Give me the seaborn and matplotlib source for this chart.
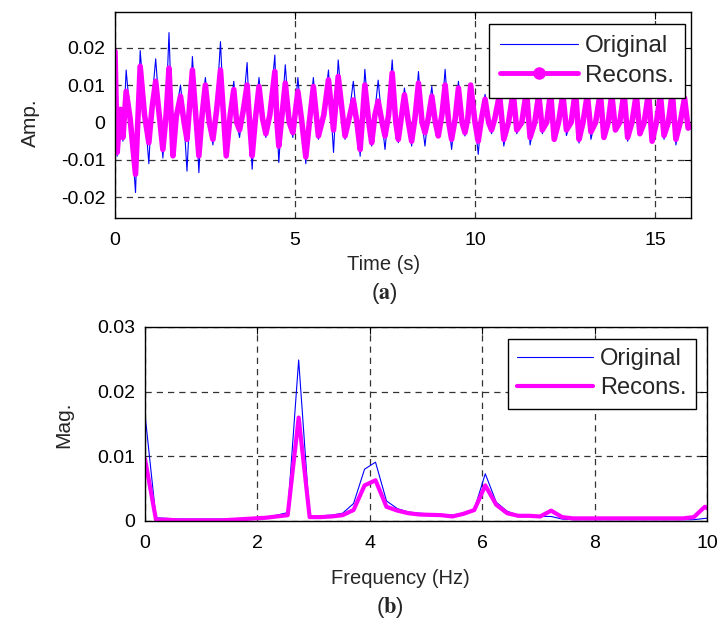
import numpy as np
import pandas as pd
import matplotlib
matplotlib.use('Agg')
import matplotlib.pyplot as plt
import seaborn as sns
from matplotlib.lines import Line2D

# (a) time signal - turning points
time_s = [0.00, 0.06, 0.15, 0.22, 0.31, 0.42, 0.57, 0.70, 0.82, 0.94, 1.03, 1.13, 1.25, 1.33,
          1.42, 1.50, 1.61, 1.70, 1.82, 1.92, 2.00, 2.15, 2.25, 2.33, 2.42, 2.51, 2.62, 2.72,
          2.82, 2.93, 3.02, 3.09, 3.20, 3.30, 3.38, 3.46, 3.56, 3.67, 3.74, 3.81, 3.90, 4.00,
          4.10, 4.19, 4.30, 4.44, 4.50, 4.55, 4.64, 4.73, 4.84, 4.94, 5.00, 5.08, 5.18, 5.30,
          5.41, 5.51, 5.65, 5.80, 5.93, 6.07, 6.20, 6.39, 6.50, 6.62, 6.72, 6.81, 6.94, 7.05,
          7.13, 7.22, 7.31, 7.42, 7.50, 7.60, 7.70, 7.80, 7.87, 7.95, 8.04, 8.15, 8.24, 8.33,
          8.43, 8.53, 8.61, 8.70, 8.80, 8.90, 8.98, 9.08, 9.17, 9.27, 9.35, 9.45, 9.54, 9.64,
          9.72, 9.80, 9.88, 10.00, 10.09, 10.18, 10.28, 10.38, 10.46, 10.55, 10.68, 10.80, 10.93,
          11.06, 11.16, 11.30, 11.43, 11.53, 11.66, 11.77, 11.87, 11.99, 12.10, 12.20, 12.32,
          12.44, 12.54, 12.67, 12.79, 12.89, 13.00, 13.12, 13.22, 13.35, 13.48, 13.58, 13.70,
          13.80, 13.90, 14.02, 14.14, 14.24, 14.36, 14.48, 14.58, 14.70, 14.82, 14.92, 15.04,
          15.15, 15.25, 15.37, 15.48, 15.58, 15.70, 15.82, 15.92, 16.00]
amp_orig = [0.023, -0.009, 0.004, -0.005, 0.014, 0.002, -0.0187, 0.0192, 0.004, -0.011, 0.006,
            0.017, 0.001, -0.0095, 0.004, 0.024, -0.0085, 0.003, 0.010, 0.000, -0.013, 0.0176,
            0.002, -0.0134, 0.004, 0.012, 0.001, -0.006, 0.004, 0.0216, 0.002, -0.0095, 0.003,
            0.011, 0.000, -0.004, 0.004, 0.016, 0.000, -0.0125, 0.002, 0.012, 0.002, -0.004,
            0.003, 0.018, 0.000, -0.0107, 0.003, 0.0154, 0.001, -0.004, 0.003, 0.012, 0.001,
            -0.011, 0.002, 0.012, -0.0045, 0.003, 0.014, -0.008, 0.0167, -0.0045, 0.002, 0.011,
            0.001, -0.009, 0.0142, 0.001, -0.0063, 0.003, 0.0113, 0.000, -0.0072, 0.003, 0.0167,
            0.001, -0.0054, 0.002, 0.0092, 0.001, -0.0063, 0.002, 0.0136, 0.000, -0.0063, 0.002,
            0.0096, 0.000, -0.0036, 0.003, 0.0142, 0.000, -0.0072, 0.002, 0.011, 0.000, -0.0036,
            0.002, 0.010, 0.000, -0.0085, 0.002, 0.0075, 0.001, -0.003, 0.002, 0.009, -0.0063,
            0.001, 0.010, -0.003, 0.001, 0.011, -0.006, 0.001, 0.009, -0.003, 0.001, 0.010,
            -0.005, 0.001, 0.009, -0.0035, 0.001, 0.010, -0.0055, 0.001, 0.009, -0.0045, 0.001,
            0.010, -0.0045, 0.001, 0.009, -0.002, 0.001, 0.010, -0.005, 0.001, 0.009, -0.0035,
            0.001, 0.010, -0.0055, 0.001, 0.009, -0.0045, 0.001, 0.010, -0.006, 0.001, 0.0095,
            -0.002, -0.001]
amp_recon = [0.019, -0.008, 0.0035, -0.004, 0.0083, 0.001, -0.0138, 0.015, 0.002, -0.0054, 0.004,
             0.011, 0.000, -0.0072, 0.002, 0.0145, -0.0089, 0.0015, 0.007, 0.000, -0.0045, 0.014,
             0.001, -0.0089, 0.002, 0.010, 0.000, -0.0045, 0.003, 0.014, 0.001, -0.0089, 0.002,
             0.0088, 0.000, -0.002, 0.003, 0.010, 0.000, -0.0089, 0.001, 0.0096, 0.001, -0.003,
             0.002, 0.0136, 0.000, -0.0063, 0.002, 0.0105, 0.000, -0.0027, 0.002, 0.0083, 0.001,
             -0.0092, 0.001, 0.0096, -0.0036, 0.002, 0.0114, -0.002, 0.0123, -0.0036, 0.001, 0.006,
             0.000, -0.0072, 0.010, 0.000, -0.0054, 0.002, 0.0057, 0.000, -0.0036, 0.002, 0.0132,
             0.000, -0.0045, 0.001, 0.0074, 0.000, -0.005, 0.001, 0.0105, 0.000, -0.0027, 0.001,
             0.007, 0.000, -0.0036, 0.002, 0.010, 0.000, -0.0045, 0.001, 0.0092, 0.000, -0.0027,
             0.001, 0.010, 0.000, -0.005, 0.001, 0.0062, 0.000, -0.002, 0.001, 0.0075, -0.0045,
             0.000, 0.008, -0.002, 0.000, 0.0085, -0.004, 0.000, 0.0075, -0.002, 0.000, 0.008,
             -0.0045, 0.000, 0.0075, -0.002, 0.000, 0.0085, -0.0045, 0.000, 0.0075, -0.0025, 0.000,
             0.008, -0.004, 0.000, 0.0075, -0.002, 0.000, 0.008, -0.004, 0.000, 0.0075, -0.003,
             0.000, 0.008, -0.005, 0.000, 0.0075, -0.0035, 0.000, 0.008, -0.0045, 0.000, 0.0065,
             -0.0015, -0.001]

# (b) spectrum - one value per FFT bin
freq_step = 0.1953125
mag_orig = [0.0165, 0.0005, 0.0004, 0.0003, 0.0003, 0.0003, 0.0003, 0.0003, 0.0003, 0.0004,
            0.0005, 0.0006, 0.0009, 0.0013, 0.0249, 0.0007, 0.0008, 0.0009, 0.0012, 0.0027,
            0.0080, 0.0091, 0.0031, 0.0019, 0.0014, 0.0012, 0.0011, 0.0010, 0.0009, 0.0012,
            0.0018, 0.0073, 0.0029, 0.0015, 0.0009, 0.0008, 0.0007, 0.0007, 0.0003, 0.0002,
            0.0002, 0.0002, 0.0002, 0.0002, 0.0002, 0.0002, 0.0002, 0.0002, 0.0002, 0.0002,
            0.0002, 0.0004, 0.0005]
mag_recon = [0.0096, 0.0002, 0.0002, 0.0001, 0.0001, 0.0001, 0.0001, 0.0001, 0.0002, 0.0003,
             0.0004, 0.0005, 0.0007, 0.0009, 0.0160, 0.0006, 0.0006, 0.0007, 0.0009, 0.0017,
             0.0055, 0.0063, 0.0022, 0.0016, 0.0012, 0.0010, 0.00095, 0.0009, 0.0007, 0.0011,
             0.0017, 0.0055, 0.0025, 0.0012, 0.0008, 0.0008, 0.0007, 0.0016, 0.0006, 0.0004,
             0.0004, 0.0004, 0.0004, 0.0004, 0.0004, 0.0004, 0.0004, 0.0004, 0.0004, 0.0004,
             0.0006, 0.0022, 0.0012]
freq_hz = np.arange(len(mag_orig)) * freq_step

sig = pd.DataFrame({'t': time_s, 'orig': amp_orig, 'recon': amp_recon})
spec = pd.DataFrame({'f': freq_hz, 'orig': mag_orig, 'recon': mag_recon})

sns.set_theme(style='white')
plt.rcParams['font.family'] = ['Liberation Sans', 'DejaVu Sans']
plt.rcParams['axes.unicode_minus'] = False
plt.rcParams['mathtext.fontset'] = 'stix'

BLUE = '#0000ff'
MAGENTA = '#ff00ff'

fig = plt.figure(figsize=(7.21, 6.28), dpi=100)
ax1 = fig.add_axes([0.1595, 0.6529, 0.7989, 0.328])
ax2 = fig.add_axes([0.2011, 0.1704, 0.7795, 0.3089])


def matlab_look(ax):
    ax.grid(True, color='#333333', linestyle=(0, (5, 4)), linewidth=0.9)
    ax.tick_params(direction='in', top=True, right=True, length=5, width=0.8,
                   labelsize=14, colors='black')
    ax.tick_params(axis='x', pad=10)
    ax.tick_params(axis='y', pad=7)
    for sp in ax.spines.values():
        sp.set_color('black')
        sp.set_linewidth(1.0)
    ax.set_xlabel('')
    ax.set_ylabel('')


def fmt(v, pos):
    return '0' if abs(v) < 1e-12 else f'{v:.2f}'


# top panel
sns.lineplot(data=sig, x='t', y='orig', color=BLUE, lw=0.8, estimator=None, sort=False, ax=ax1)
sns.lineplot(data=sig, x='t', y='recon', color=MAGENTA, lw=4, estimator=None, sort=False, ax=ax1)
ax1.set_xlim(0, 16)
ax1.set_ylim(-0.0255, 0.0295)
ax1.set_xticks([0, 5, 10, 15])
ax1.set_yticks([-0.02, -0.01, 0, 0.01, 0.02])
ax1.yaxis.set_major_formatter(plt.FuncFormatter(fmt))
matlab_look(ax1)
h1 = [Line2D([], [], color=BLUE, lw=0.8),
      Line2D([], [], color=MAGENTA, lw=3.5, marker='o', ms=8)]
leg1 = ax1.legend(h1, ['Original', 'Recons.'], loc='upper right', bbox_to_anchor=(0.99, 0.94),
                  borderaxespad=0, fontsize=17.5, handlelength=3.2, handletextpad=0.3,
                  framealpha=1, fancybox=False, edgecolor='black', borderpad=0.45,
                  labelspacing=0.3)
leg1.get_frame().set_linewidth(1.0)

# bottom panel
sns.lineplot(data=spec, x='f', y='orig', color=BLUE, lw=0.8, estimator=None, ax=ax2)
sns.lineplot(data=spec, x='f', y='recon', color=MAGENTA, lw=3, estimator=None, ax=ax2)
ax2.set_xlim(0, 10)
ax2.set_ylim(0, 0.03)
ax2.set_xticks([0, 2, 4, 6, 8, 10])
ax2.set_yticks([0, 0.01, 0.02, 0.03])
ax2.yaxis.set_major_formatter(plt.FuncFormatter(fmt))
matlab_look(ax2)
h2 = [Line2D([], [], color=BLUE, lw=0.8), Line2D([], [], color=MAGENTA, lw=3)]
leg2 = ax2.legend(h2, ['Original', 'Recons.'], loc='upper right', bbox_to_anchor=(0.98, 0.94),
                  borderaxespad=0, fontsize=17, handlelength=3.2, handletextpad=0.3,
                  framealpha=1, fancybox=False, edgecolor='black', borderpad=0.4,
                  labelspacing=0.3)
leg2.get_frame().set_linewidth(1.0)

# labels placed on the page like the original figure
fig.text(30 / 721, 1 - 123 / 628, 'Amp.', rotation=90, ha='center', va='center', fontsize=15)
fig.text(64 / 721, 1 - 425 / 628, 'Mag.', rotation=90, ha='center', va='center', fontsize=15)
fig.text(384 / 721, 1 - 265 / 628, 'Time (s)', ha='center', va='center', fontsize=14.5)
fig.text(400 / 721, 1 - 578 / 628, 'Frequency (Hz)', ha='center', va='center', fontsize=14.5)
fig.text(384 / 721, 1 - 294 / 628, r'($\mathbf{a}$)', ha='center', va='center', fontsize=16)
fig.text(390 / 721, 1 - 607 / 628, r'($\mathbf{b}$)', ha='center', va='center', fontsize=16)

fig.savefig('out.png', dpi=100)
